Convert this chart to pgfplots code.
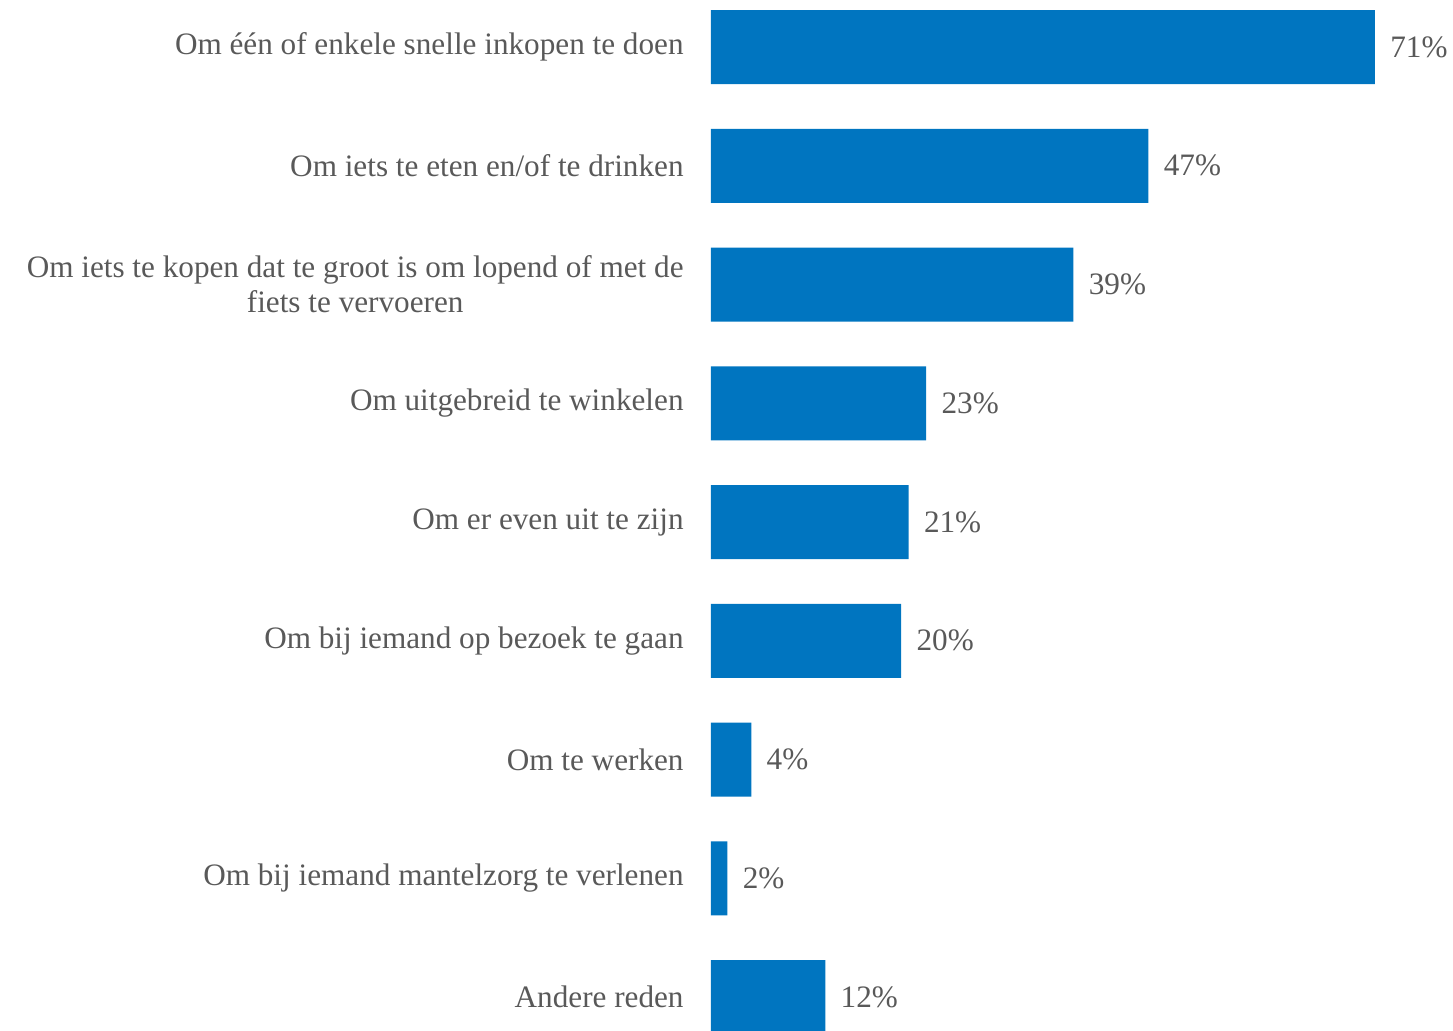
\documentclass[border=0pt]{standalone}
\usepackage{pgfplots}
\pgfplotsset{compat=1.18}
\usepackage{fontspec}
\setmainfont{Liberation Serif}
\definecolor{barblue}{HTML}{0075C0}
\definecolor{txtgrey}{HTML}{595959}
\begin{document}
\begin{tikzpicture}
\begin{axis}[
  xbar,
  scale only axis,
  width=332pt, height=515pt,
  xmin=0, xmax=71,
  ymin=-0.3958, ymax=8.2779,
  y dir=reverse,
  bar width=37pt,
  axis line style={draw=none},
  xtick=\empty,
  ytick={0,...,8},
  major tick length=0pt,
  yticklabels={
    Om één of enkele snelle inkopen te doen,
    Om iets te eten en/of te drinken,
    {Om iets te kopen dat te groot is om lopend of met de\\fiets te vervoeren},
    Om uitgebreid te winkelen,
    Om er even uit te zijn,
    Om bij iemand op bezoek te gaan,
    Om te werken,
    Om bij iemand mantelzorg te verlenen,
    Andere reden},
  yticklabel style={font=\fontsize{15.6}{17.5}\selectfont, text=txtgrey, align=center, anchor=east, inner sep=0pt, xshift=-13.5pt},
  point meta=explicit symbolic,
  nodes near coords={\pgfplotspointmeta\%},
  nodes near coords style={font=\fontsize{15.6}{17.5}\selectfont, text=txtgrey, anchor=west, inner sep=0pt, xshift=7.5pt},
  clip=false,
]
\addplot[fill=barblue, draw=none] coordinates {
 (71,0) [71] (46.78,1) [47] (38.76,2) [39] (23.01,3) [23] (21.13,4) [21]
 (20.34,5) [20] (4.31,6) [4] (1.76,7) [2] (12.22,8) [12]};
\end{axis}
\pgfresetboundingbox
\useasboundingbox (-355.5pt,0pt) rectangle (371pt,515pt);
\end{tikzpicture}
\end{document}
